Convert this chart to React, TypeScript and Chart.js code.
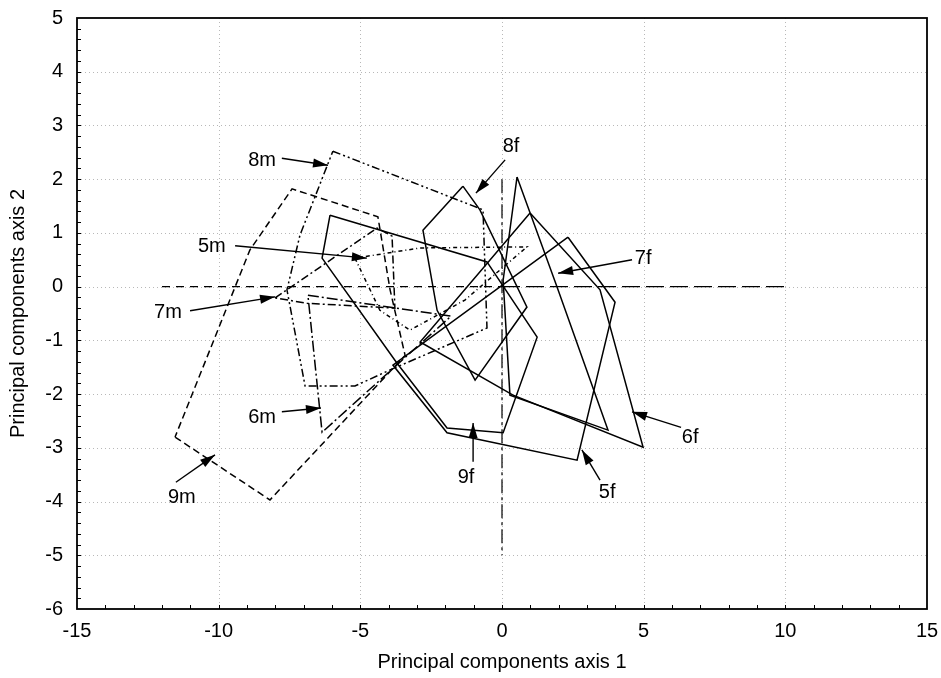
import React, { useEffect, useRef } from 'react';
import { Chart, registerables } from 'chart.js';
Chart.register(...registerables);

// ---- axis ranges / ticks ----
const xMin = -15, xMax = 15, xStep = 5;
const yMin = -6, yMax = 5, yStep = 1;
const xTitle = 'Principal components axis 1';
const yTitle = 'Principal components axis 2';

// ---- reference lines (axes through origin) ----
const hLineLeft = [[-12, 0], [0, 0]];
const hLineRight = [[0, 0], [10, 0]];
const vLine = [[0, 2], [0, -5]];

// ---- male polygons (dashed styles) ----
const poly9m = [[-11.54, -2.8], [-8.19, -3.97], [-3.42, -1.28], [-3.95, -0.06], [-4.38, 1.3], [-7.41, 1.82], [-8.9, 0.68]];
const poly8m = [[-5.97, 2.52], [-0.67, 1.43], [-0.53, -0.77], [-3.95, -1.55], [-5.19, -1.85], [-6.95, -1.85], [-7.59, -0.06], [-7.13, 0.96]];
const poly7m = [[-8.01, -0.21], [-4.41, 1.09], [-3.88, 0.94], [-3.78, -0.4], [-6.88, -0.31]];
const poly6m = [[-6.85, -0.16], [-1.8, -0.55], [-6.35, -2.71]];
const poly5m = [[-5.19, 0.53], [-2.89, 0.72], [0.88, 0.74], [-1.31, -0.25], [-3.25, -0.81], [-4.31, -0.44]];

// ---- female polygons (solid) ----
const poly9f = [[-6.07, 1.33], [-0.53, 0.46], [1.24, -0.94], [0.04, -2.72], [-1.94, -2.63], [-3.71, -1.42], [-6.35, 0.53]];
const poly5f = [[2.33, 0.92], [3.99, -0.29], [2.65, -3.23], [-1.94, -2.72], [-3.85, -1.46]];
const poly6f = [[0.99, 1.37], [3.46, -0.06], [4.98, -2.99], [0.39, -2.02], [-2.89, -1.03]];
const poly7f = [[0.53, 2.04], [1.94, 0.0], [3.74, -2.67], [0.28, -2.02], [0.04, 0.12]];
const poly8f = [[-1.38, 1.87], [-0.78, 1.43], [0.88, -0.38], [-0.95, -1.74], [-2.29, -0.44], [-2.79, 1.05]];

// ---- annotations: label text, label position, arrow start, arrow tip ----
const annNames = ['8m', '5m', '7m', '6m', '9m', '8f', '7f', '6f', '5f', '9f'];
const annLabelX = [-8.47, -10.24, -11.79, -8.47, -11.3, 0.32, 4.98, 6.64, 3.71, -1.27];
const annLabelY = [2.35, 0.74, -0.49, -2.44, -3.92, 2.6, 0.53, -2.8, -3.84, -3.56];
const annFromX = [-7.77, -9.42, -11.01, -7.77, -11.51, 0.11, 4.59, 6.32, 3.46, -1.02];
const annFromY = [2.39, 0.76, -0.45, -2.33, -3.64, 2.36, 0.5, -2.62, -3.6, -3.26];
const annToX = [-6.14, -4.77, -8.01, -6.39, -10.13, -0.92, 1.98, 4.59, 2.82, -1.02];
const annToY = [2.26, 0.53, -0.19, -2.26, -3.13, 1.74, 0.25, -2.33, -3.04, -2.54];

const FONT = '"Liberation Sans", Arial, sans-serif';

function closed(p: number[][]) {
  const pts = p.map(([x, y]) => ({ x, y }));
  pts.push({ x: p[0][0], y: p[0][1] });
  return pts;
}
function open(p: number[][]) {
  return p.map(([x, y]) => ({ x, y }));
}

const decorPlugin = {
  id: 'decor',
  beforeDatasetsDraw(chart: any) {
    const { ctx, chartArea: a, scales } = chart;
    const xs = scales.x, ys = scales.y;
    ctx.save();
    ctx.strokeStyle = '#b8b8b8';
    ctx.lineWidth = 1;
    ctx.setLineDash([1, 3]);
    for (let v = xMin + xStep; v < xMax; v += xStep) {
      const px = Math.round(xs.getPixelForValue(v)) + 0.5;
      ctx.beginPath(); ctx.moveTo(px, a.top); ctx.lineTo(px, a.bottom); ctx.stroke();
    }
    for (let v = yMin + yStep; v < yMax; v += yStep) {
      const py = Math.round(ys.getPixelForValue(v)) + 0.5;
      ctx.beginPath(); ctx.moveTo(a.left, py); ctx.lineTo(a.right, py); ctx.stroke();
    }
    ctx.restore();
  },
  afterDatasetsDraw(chart: any) {
    const { ctx, chartArea: a, scales } = chart;
    const xs = scales.x, ys = scales.y;
    ctx.save();
    ctx.setLineDash([]);
    ctx.strokeStyle = '#000';
    ctx.lineWidth = 1;
    for (let v = xMin + 1; v < xMax; v += 1) {
      const px = Math.round(xs.getPixelForValue(v)) + 0.5;
      ctx.beginPath(); ctx.moveTo(px, a.bottom); ctx.lineTo(px, a.bottom - 4); ctx.stroke();
    }
    for (let i = 1; i < (yMax - yMin) * 5; i++) {
      const v = yMin + i * 0.2;
      const py = Math.round(ys.getPixelForValue(v)) + 0.5;
      ctx.beginPath(); ctx.moveTo(a.left, py); ctx.lineTo(a.left + 4, py); ctx.stroke();
    }
    ctx.lineWidth = 1.8;
    ctx.strokeRect(a.left, a.top, a.right - a.left, a.bottom - a.top);

    ctx.lineWidth = 1.4;
    ctx.fillStyle = '#000';
    for (let i = 0; i < annNames.length; i++) {
      const fx = xs.getPixelForValue(annFromX[i]);
      const fy = ys.getPixelForValue(annFromY[i]);
      const tx = xs.getPixelForValue(annToX[i]);
      const ty = ys.getPixelForValue(annToY[i]);
      ctx.beginPath(); ctx.moveTo(fx, fy); ctx.lineTo(tx, ty); ctx.stroke();
      const ang = Math.atan2(ty - fy, tx - fx);
      const L = 15, W = 4.5;
      const bx = tx - L * Math.cos(ang), by = ty - L * Math.sin(ang);
      ctx.beginPath();
      ctx.moveTo(tx, ty);
      ctx.lineTo(bx + W * Math.sin(ang), by - W * Math.cos(ang));
      ctx.lineTo(bx - W * Math.sin(ang), by + W * Math.cos(ang));
      ctx.closePath();
      ctx.fill();
      ctx.font = `20px ${FONT}`;
      ctx.textAlign = 'center';
      ctx.textBaseline = 'middle';
      ctx.fillText(annNames[i], xs.getPixelForValue(annLabelX[i]), ys.getPixelForValue(annLabelY[i]));
    }
    ctx.restore();
  },
};

function ds(points: any[], dash: number[], width = 1.5) {
  return {
    data: points,
    showLine: true,
    borderColor: '#000',
    backgroundColor: '#000',
    borderWidth: width,
    borderDash: dash,
    pointRadius: 0,
    pointHoverRadius: 0,
    fill: false,
    tension: 0,
  };
}

export default function App() {
  const ref = useRef<HTMLCanvasElement | null>(null);
  useEffect(() => {
    if (!ref.current) return;
    const chart = new Chart(ref.current, {
      type: 'scatter',
      data: {
        datasets: [
          ds(open(hLineLeft), [8, 6], 1.2),
          ds(open(hLineRight), [18, 6], 1.2),
          ds(open(vLine), [14, 4, 3, 4], 1.2),
          ds(closed(poly9m), [7, 4]),
          ds(closed(poly8m), [8, 3, 2, 3, 2, 3]),
          ds(closed(poly7m), [8, 3, 2, 3]),
          ds(closed(poly6m), [11, 3, 2, 3]),
          ds(closed(poly5m), [4, 3, 1, 3]),
          ds(closed(poly9f), []),
          ds(closed(poly5f), []),
          ds(closed(poly6f), []),
          ds(closed(poly7f), []),
          ds(closed(poly8f), []),
        ] as any,
      },
      options: {
        responsive: false,
        animation: false,
        events: [],
        layout: { padding: { top: 18, right: 14, left: 0, bottom: 0 } },
        plugins: { legend: { display: false }, tooltip: { enabled: false } },
        scales: {
          x: {
            type: 'linear',
            min: xMin,
            max: xMax,
            ticks: { stepSize: xStep, color: '#000', font: { size: 20, family: FONT }, padding: 10 },
            grid: { display: false, drawTicks: false },
            border: { display: false },
            title: { display: true, text: xTitle, color: '#000', font: { size: 20, family: FONT }, padding: { top: 0, bottom: 4 } },
            afterFit: (s: any) => { s.height = 69; s.paddingLeft = 0; s.paddingRight = 0; },
          },
          y: {
            type: 'linear',
            min: yMin,
            max: yMax,
            ticks: { stepSize: yStep, color: '#000', font: { size: 20, family: FONT }, padding: 14 },
            grid: { display: false, drawTicks: false },
            border: { display: false },
            title: { display: true, text: yTitle, color: '#000', font: { size: 20, family: FONT }, padding: { top: 6, bottom: 0 } },
            afterFit: (s: any) => { s.width = 77; s.paddingTop = 0; s.paddingBottom = 0; },
          },
        },
      } as any,
      plugins: [decorPlugin],
    });
    return () => chart.destroy();
  }, []);
  return (
    <div style={{ position: 'fixed', left: 0, top: 0, width: 941, height: 678, background: '#fff' }}>
      <canvas ref={ref} width={941} height={678} style={{ display: 'block' }} />
    </div>
  );
}
